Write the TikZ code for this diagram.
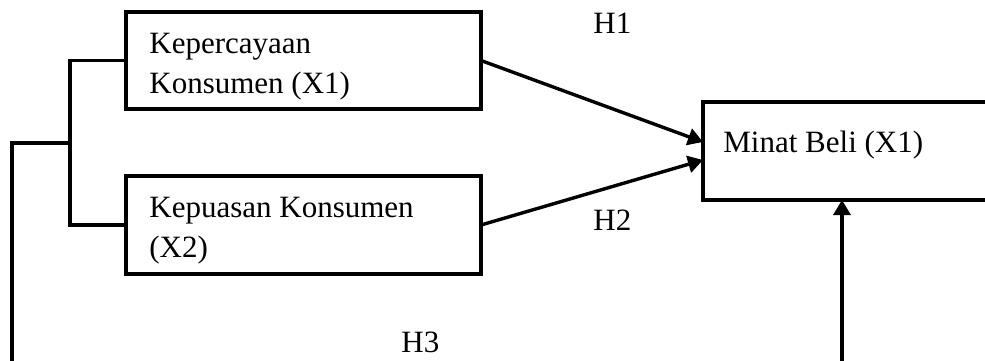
\documentclass[tikz,border=0pt]{standalone}
\usepackage{fontspec}
\setmainfont{Liberation Serif}
\usetikzlibrary{arrows.meta}
\begin{document}
\begin{tikzpicture}[x=0.5pt,y=-0.5pt,
  box/.style={draw, line width=2pt, inner sep=0pt, outer sep=0pt},
  lbl/.style={anchor=base west, inner sep=0pt, font=\fontsize{15.5pt}{19.75pt}\selectfont, align=left},
  link/.style={line width=1.6pt},
  arr/.style={line width=1.7pt, -{Triangle[length=7.5pt,width=8.5pt]}}]
\useasboundingbox (0,0) rectangle (985,360);
\clip (0,0) rectangle (985,360);
\node[box, minimum width=177.5pt, minimum height=48.5pt] (kp) at (303.5,60.5) {};
\node[box, minimum width=177.5pt, minimum height=49pt] (ks) at (303.5,225) {};
\node[box, minimum width=200pt, minimum height=49pt, anchor=west] (mb) at (703,151) {};
\node[lbl] (t1) at (149,93) {Kepercayaan\\Konsumen (X1)};
\node[lbl] (t2) at (149,257) {Kepuasan Konsumen\\(X2)};
\node[lbl] (t3) at (723,152) {Minat Beli (X1)};
\node[lbl] (h1) at (593,33) {H1};
\node[lbl] (h2) at (593,230) {H2};
\node[lbl] (h3) at (401,352) {H3};
\coordinate (jn) at (70,143);
\coordinate (bl) at (12,362);
\coordinate (vb) at (842,362);
\draw[link] (kp.west) -- ++(-56,0) |- (ks.west);
\draw[link] (bl) |- (jn);
\draw[arr] (kp.east) -- ([yshift=4.5pt]mb.west);
\draw[arr] (ks.east) -- ([yshift=-4.5pt]mb.west);
\draw[arr] (vb) -- (vb |- mb.south);
\end{tikzpicture}
\end{document}
